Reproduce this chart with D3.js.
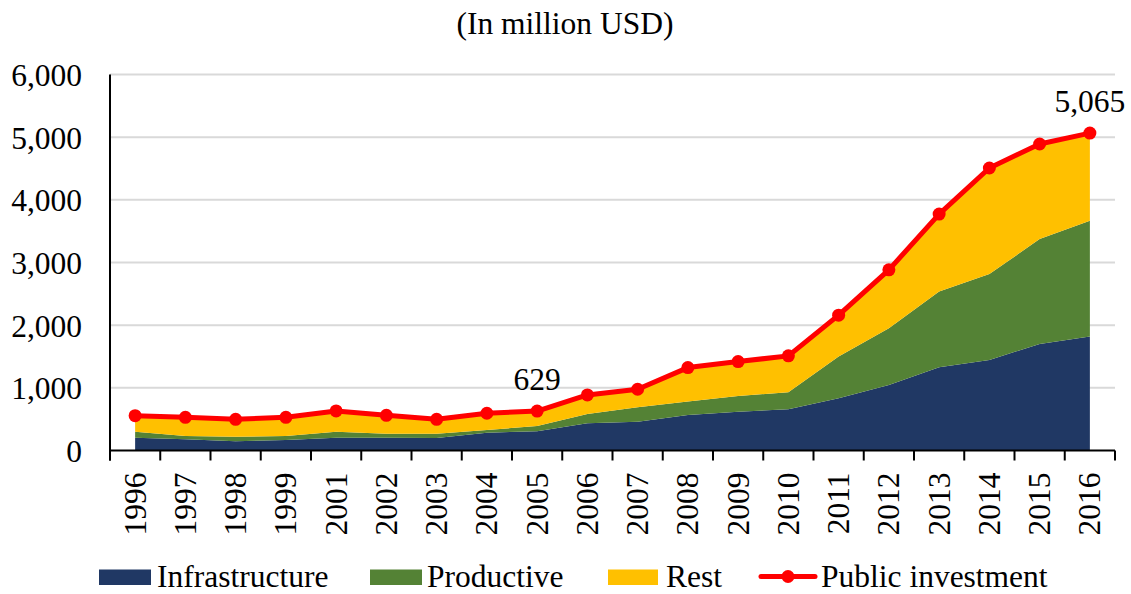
<!DOCTYPE html>
<html><head><meta charset="utf-8">
<script src="https://cdn.jsdelivr.net/npm/d3@7"></script>
<style>
html,body{margin:0;padding:0;background:#fff;}
</style></head>
<body><svg id="c" width="1131" height="594"></svg>
<script>
const years = ["1996","1997","1998","1999","2001","2002","2003","2004","2005","2006","2007","2008","2009","2010","2011","2012","2013","2014","2015","2016"];
const infrastructure = [204,179,147,168,204,204,200,284,307,434,460,567,620,658,834,1046,1329,1446,1701,1818];
const productive = [96,53,73,64,96,64,68,43,84,149,230,213,251,272,665,906,1208,1369,1673,1848];
const rest = [256,298,278,298,331,294,230,267,238,304,287,543,548,580,661,931,1236,1693,1517,1399];
const publicInvestment = [556,530,498,530,631,562,498,594,629,887,977,1323,1419,1510,2160,2883,3773,4508,4891,5065];
const yTicks = [0,1000,2000,3000,4000,5000,6000];
const seriesNames = ["Infrastructure","Productive","Rest"];
const colors = {Infrastructure:"#203864",Productive:"#548235",Rest:"#FFC000",line:"#FF0000"};
const annotated = ["2005","2016"];

(function(){
const FONT = "Liberation Serif";
const FS = "31.5px";
const svg = d3.select("#c");
const L=110, R=1115, T=74.5, B=450.5;
const x = d3.scaleBand().domain(years).range([L,R]).paddingInner(0).paddingOuter(0);
const y = d3.scaleLinear().domain([0,6000]).range([B,T]);
const cx = d => x(d)+x.bandwidth()/2;
const txt = s => s.style("font-family",FONT).style("font-size",FS).style("fill","#000");

// gridlines
svg.append("g").selectAll("line").data(yTicks.filter(t=>t>0)).join("line")
  .attr("x1",L).attr("x2",R).attr("y1",d=>y(d)).attr("y2",d=>y(d))
  .attr("stroke","#D9D9D9").attr("stroke-width",2);

// stacked areas
const table = years.map((yr,i)=>({year:yr,Infrastructure:infrastructure[i],Productive:productive[i],Rest:rest[i]}));
const stack = d3.stack().keys(seriesNames)(table);
const area = d3.area().x(d=>cx(d.data.year)).y0(d=>y(d[0])).y1(d=>y(d[1]));
svg.append("g").selectAll("path").data(stack).join("path")
  .attr("d",area).attr("fill",d=>colors[d.key]);

// line
const lineData = years.map((yr,i)=>({year:yr,v:publicInvestment[i]}));
svg.append("path").datum(lineData)
  .attr("d",d3.line().x(d=>cx(d.year)).y(d=>y(d.v)))
  .attr("fill","none").attr("stroke",colors.line).attr("stroke-width",5).attr("stroke-linejoin","round");
svg.append("g").selectAll("circle").data(lineData).join("circle")
  .attr("cx",d=>cx(d.year)).attr("cy",d=>y(d.v)).attr("r",6.5).attr("fill",colors.line);

// annotations
svg.append("g").selectAll("text").data(lineData.filter(d=>annotated.includes(d.year))).join("text")
  .attr("x",d=>cx(d.year)).attr("y",d=>y(d.v)-21).attr("text-anchor","middle")
  .call(txt).text(d=>d3.format(",")(d.v));

// y axis
const yAxis = svg.append("g").attr("transform",`translate(${L},0)`)
  .call(d3.axisLeft(y).tickValues(yTicks).tickFormat(d3.format(",")).tickSize(0).tickPadding(28));
yAxis.select(".domain").attr("stroke","#000").attr("stroke-width",2).attr("d",`M0,${T}V${B+10}`);
yAxis.selectAll("text").call(txt).attr("dy","0.35em");

// x axis
const xAxis = svg.append("g").attr("transform",`translate(0,${B})`);
xAxis.append("line").attr("x1",L).attr("x2",R).attr("stroke","#000").attr("stroke-width",2);
xAxis.selectAll("line.tk").data(years.concat(["end"])).join("line").attr("class","tk")
  .attr("x1",(d,i)=>i<years.length?x(d):R).attr("x2",(d,i)=>i<years.length?x(d):R)
  .attr("y1",0).attr("y2",10).attr("stroke","#000").attr("stroke-width",2);
xAxis.selectAll("text").data(years).join("text")
  .attr("transform",d=>`translate(${cx(d)+10.5},22) rotate(-90)`)
  .attr("text-anchor","end").call(txt).text(d=>d);

// title
svg.append("text").attr("x",565).attr("y",34).attr("text-anchor","middle").call(txt).text("(In million USD)");

// legend
const legend = [
  {name:"Infrastructure",type:"rect",sx:99,ex:151,tx:157},
  {name:"Productive",type:"rect",sx:370,ex:422,tx:427},
  {name:"Rest",type:"rect",sx:608,ex:658,tx:666},
  {name:"Public investment",type:"line",sx:761,ex:815,tx:821}
];
const lg = svg.append("g");
legend.forEach(l=>{
  if(l.type==="rect"){
    lg.append("rect").attr("x",l.sx).attr("y",569.5).attr("width",l.ex-l.sx).attr("height",15.5).attr("fill",colors[l.name]);
  } else {
    lg.append("line").attr("x1",l.sx).attr("x2",l.ex).attr("y1",576.5).attr("y2",576.5).attr("stroke",colors.line).attr("stroke-width",5).attr("stroke-linecap","round");
    lg.append("circle").attr("cx",(l.sx+l.ex)/2).attr("cy",576.5).attr("r",6.5).attr("fill",colors.line);
  }
  lg.append("text").attr("x",l.tx).attr("y",587).call(txt).text(l.name);
});
})();
</script></body></html>
